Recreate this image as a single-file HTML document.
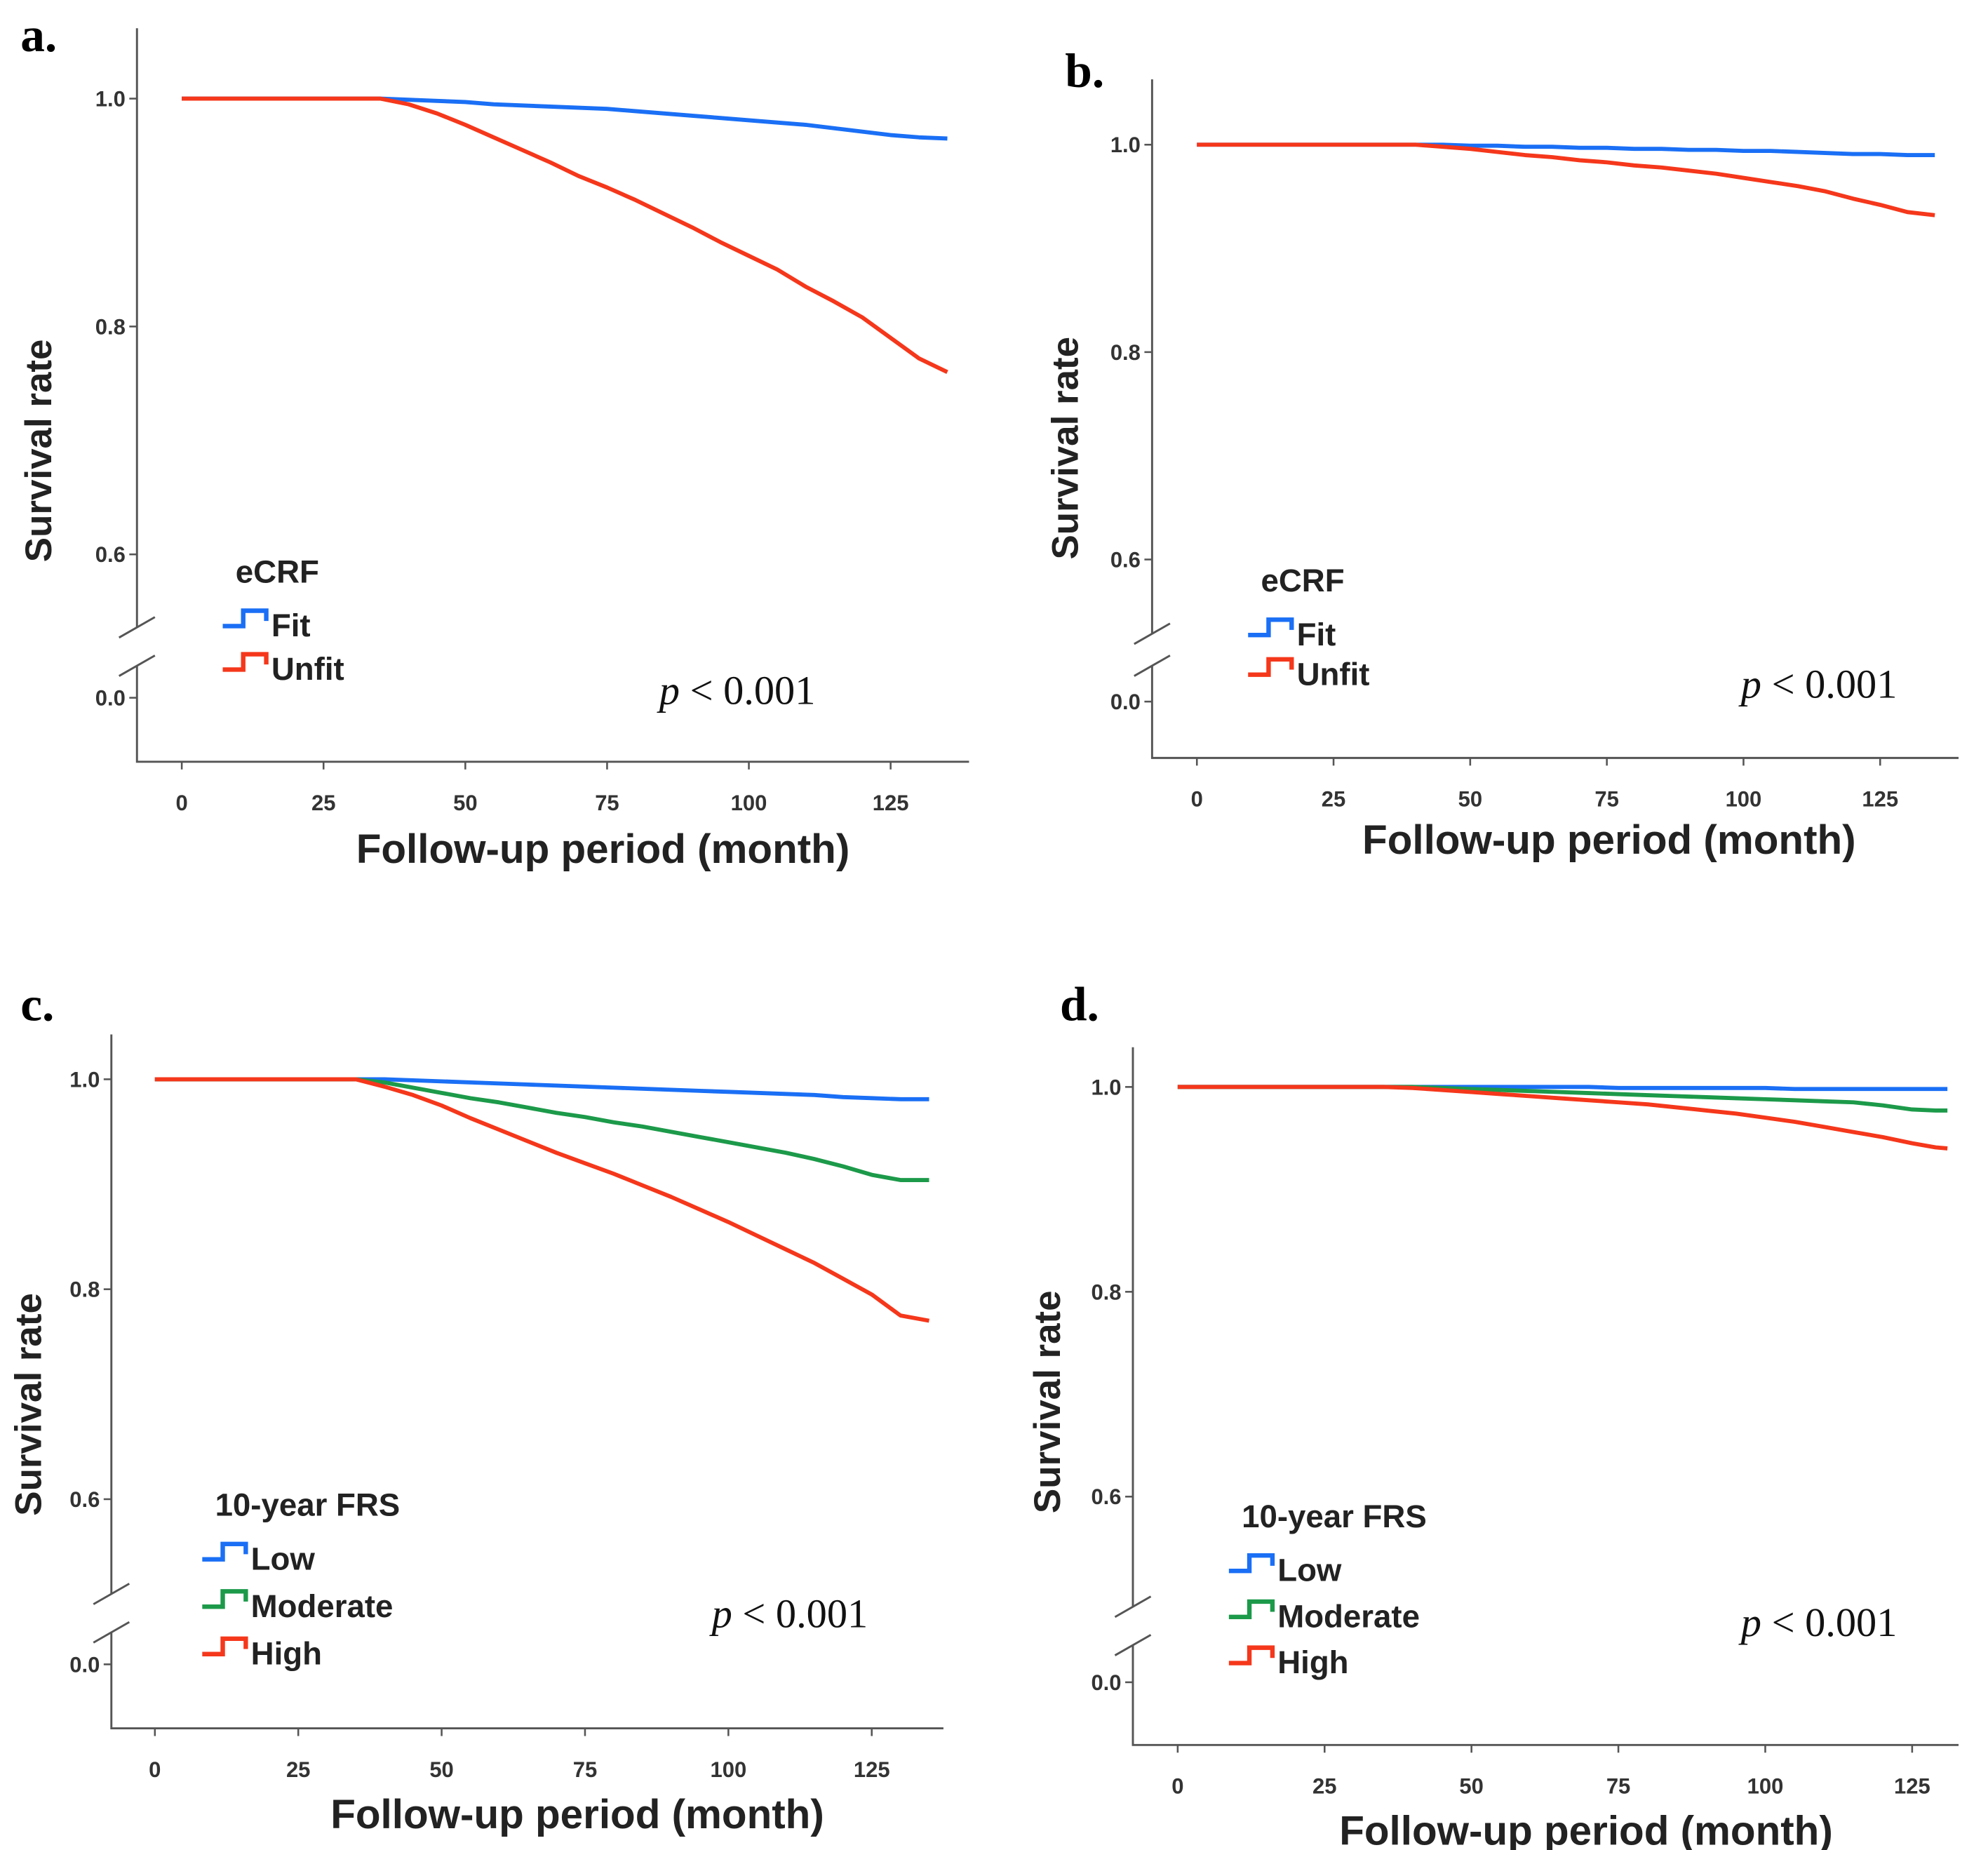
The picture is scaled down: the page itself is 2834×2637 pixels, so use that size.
<!DOCTYPE html>
<html><head><meta charset="utf-8"><style>
html,body{margin:0;padding:0;background:#fff}
svg{display:block}
.tk{font-family:"Liberation Sans",sans-serif;font-weight:bold;font-size:17px;fill:#333}
.ax{font-family:"Liberation Sans",sans-serif;font-weight:bold;font-size:29px;fill:#222}
.xt{font-family:"Liberation Sans",sans-serif;font-weight:bold;font-size:32px;fill:#222}
.lg{font-family:"Liberation Sans",sans-serif;font-weight:bold;font-size:25px;fill:#222}
.pl{font-family:"Liberation Serif",serif;font-weight:bold;font-size:38px;fill:#000}
.pv{font-family:"Liberation Serif",serif;font-size:32px;fill:#111}
</style></head><body>
<svg id="chart" width="2834" height="2637" viewBox="0 0 1553 1445" xmlns="http://www.w3.org/2000/svg"></svg>
<script>
const months  = [0,35,40,45,50,55,60,65,70,75,80,85,90,95,100,105,110,115,120,125,130,135];
const monthsD = [0,35,40,45,50,55,60,65,70,75,80,85,90,95,100,105,110,115,120,125,129,131];
const aFit   = [1,1,0.999,0.998,0.997,0.995,0.994,0.993,0.992,0.991,0.989,0.987,0.985,0.983,0.981,0.979,0.977,0.974,0.971,0.968,0.966,0.965];
const aUnfit = [1,1,0.995,0.987,0.977,0.966,0.955,0.944,0.932,0.922,0.911,0.899,0.887,0.874,0.862,0.85,0.835,0.822,0.808,0.79,0.772,0.76];
const bFit   = [1,1,1,1,0.999,0.999,0.998,0.998,0.997,0.997,0.996,0.996,0.995,0.995,0.994,0.994,0.993,0.992,0.991,0.991,0.99,0.99];
const bUnfit = [1,1,1,0.998,0.996,0.993,0.99,0.988,0.985,0.983,0.98,0.978,0.975,0.972,0.968,0.964,0.96,0.955,0.948,0.942,0.935,0.932];
const cLow   = [1,1,1,0.999,0.998,0.997,0.996,0.995,0.994,0.993,0.992,0.991,0.99,0.989,0.988,0.987,0.986,0.985,0.983,0.982,0.981,0.981];
const cMod   = [1,1,0.997,0.992,0.987,0.982,0.978,0.973,0.968,0.964,0.959,0.955,0.95,0.945,0.94,0.935,0.93,0.924,0.917,0.909,0.904,0.904];
const cHigh  = [1,1,0.993,0.985,0.975,0.963,0.952,0.941,0.93,0.92,0.91,0.899,0.888,0.876,0.864,0.851,0.838,0.825,0.81,0.795,0.775,0.77];
const dLow   = [1,1,1,1,1,1,1,1,1,0.999,0.999,0.999,0.999,0.999,0.999,0.998,0.998,0.998,0.998,0.998,0.998,0.998];
const dMod   = [1,1,1,0.999,0.998,0.997,0.996,0.995,0.994,0.993,0.992,0.991,0.99,0.989,0.988,0.987,0.986,0.985,0.982,0.978,0.977,0.977];
const dHigh  = [1,1,0.999,0.997,0.995,0.993,0.991,0.989,0.987,0.985,0.983,0.98,0.977,0.974,0.97,0.966,0.961,0.956,0.951,0.945,0.941,0.94];
const xTicks = [0,25,50,75,100,125];
const yTicks = [1.0,0.8,0.6];
const BLUE="#1a6ff5", RED="#f5371b", GREEN="#1c9a4a";
const svg=document.getElementById('chart');
const NS="http://www.w3.org/2000/svg";
function mk(tag,attrs,parent){const e=document.createElementNS(NS,tag);for(const k in attrs)e.setAttribute(k,attrs[k]);(parent||svg).appendChild(e);return e;}
function panel2(p){
  const g=mk('g',{});
  
  
  const X=m=>p.x0+m*p.xs;
  const Y=v=>p.y10+(1-v)*(p.y08-p.y10)/0.2;
  const ax=mk('path',{d:`M${p.ax},${p.top}V${p.brk1} M${p.ax},${p.brk2}V${p.bot}H${p.right}`,stroke:'#555','stroke-width':1.6,fill:'none'},g);
  
  
  const br=mk('path',{d:`M${p.ax-14},${p.brk1+8}L${p.ax+14},${p.brk1-8} M${p.ax-14},${p.brk2+8}L${p.ax+14},${p.brk2-8}`,stroke:'#555','stroke-width':1.6},g);
  
  
  xTicks.forEach(t=>{
    mk('line',{x1:X(t),x2:X(t),y1:p.bot,y2:p.bot+6,stroke:'#555','stroke-width':1.4},g);
    const tx=mk('text',{x:X(t),y:p.bot+38,class:'tk','text-anchor':'middle'},g);tx.textContent=t;
    
    
  });
  yTicks.forEach(t=>{
    mk('line',{x1:p.ax-6,x2:p.ax,y1:Y(t),y2:Y(t),stroke:'#555','stroke-width':1.4},g);
    const tx=mk('text',{x:p.ax-9,y:Y(t)+6,class:'tk','text-anchor':'end'},g);tx.textContent=t.toFixed(1);
    
    
  });
  mk('line',{x1:p.ax-6,x2:p.ax,y1:p.y00,y2:p.y00,stroke:'#555','stroke-width':1.4},g);
  const z=mk('text',{x:p.ax-9,y:p.y00+6,class:'tk','text-anchor':'end'},g);z.textContent='0.0';
  
  
  p.series.forEach(s=>{
    const mm=p.months;
    let d=`M${X(mm[0])},${Y(s.v[0])}`;
    for(let i=1;i<mm.length;i++){d+=`L${X(mm[i])},${Y(s.v[i])}`;}
    const l=mk('path',{d:d,stroke:s.c,'stroke-width':3.2,fill:'none','stroke-linejoin':'round'},g);
    
    
  });
  const yl=mk('text',{x:0,y:0,class:'ax','text-anchor':'middle',transform:`translate(${p.ylx},${p.ylc}) rotate(-90)`},g);yl.textContent='Survival rate';
  
  
  const xl=mk('text',{x:p.xtc,y:p.xty,class:'xt','text-anchor':'middle'},g);xl.textContent='Follow-up period (month)';
  
  
  const pl=mk('text',{x:p.lx,y:p.ly,class:'pl'},g);pl.textContent=p.id+'.';
  
  
  const pv=mk('text',{x:p.px,y:p.py,class:'pv'},g);
  const it=mk('tspan',{'font-style':'italic'},pv);it.textContent='p';
  const rest=mk('tspan',{},pv);rest.textContent=' < 0.001';
  
  
  const lt=mk('text',{x:p.legx+10,y:p.legy,class:'lg'},g);lt.textContent=p.legTitle;
  
  
  p.series.forEach((s,i)=>{
    const yy=p.legy+34+i*p.legdy;
    const le=mk('g',{},g);
    
    
    mk('path',{d:`M${p.legx},${yy}H${p.legx+16}V${yy-12}H${p.legx+34}V${yy-4}`,stroke:s.c,'stroke-width':3.5,fill:'none'},le);
    const t=mk('text',{x:p.legx+38,y:yy+8,class:'lg'},le);t.textContent=s.n;
  });
}
panel2({id:'a',months:months,ax:107,top:22,bot:595,right:757,brk1:490,brk2:520,x0:142,xs:4.43,y10:77,y08:255,y00:545,ylx:40,ylc:352,xtc:471,xty:674,lx:16,ly:40,px:515,py:550,legx:174,legy:455,legdy:34,legTitle:'eCRF',
  series:[{n:'Fit',c:BLUE,v:aFit},{n:'Unfit',c:RED,v:aUnfit}]});
panel2({id:'b',months:months,ax:900,top:62,bot:592,right:1530,brk1:495,brk2:520,x0:935,xs:4.27,y10:113,y08:275,y00:548,ylx:842,ylc:350,xtc:1257,xty:667,lx:832,ly:68,px:1360,py:545,legx:975,legy:462,legdy:31,legTitle:'eCRF',
  series:[{n:'Fit',c:BLUE,v:bFit},{n:'Unfit',c:RED,v:bUnfit}]});
panel2({id:'c',months:months,ax:87,top:808,bot:1350,right:737,brk1:1245,brk2:1275,x0:121,xs:4.48,y10:843,y08:1007,y00:1300,ylx:32,ylc:1097,xtc:451,xty:1428,lx:16,ly:797,px:556,py:1271,legx:158,legy:1184,legdy:37,legTitle:'10-year FRS',
  series:[{n:'Low',c:BLUE,v:cLow},{n:'Moderate',c:GREEN,v:cMod},{n:'High',c:RED,v:cHigh}]});
panel2({id:'d',months:monthsD,ax:885,top:818,bot:1363,right:1530,brk1:1255,brk2:1285,x0:920,xs:4.59,y10:849,y08:1009,y00:1314,ylx:828,ylc:1095,xtc:1239,xty:1441,lx:828,ly:797,px:1360,py:1278,legx:960,legy:1193,legdy:36,legTitle:'10-year FRS',
  series:[{n:'Low',c:BLUE,v:dLow},{n:'Moderate',c:GREEN,v:dMod},{n:'High',c:RED,v:dHigh}]});
</script>
</body></html>
